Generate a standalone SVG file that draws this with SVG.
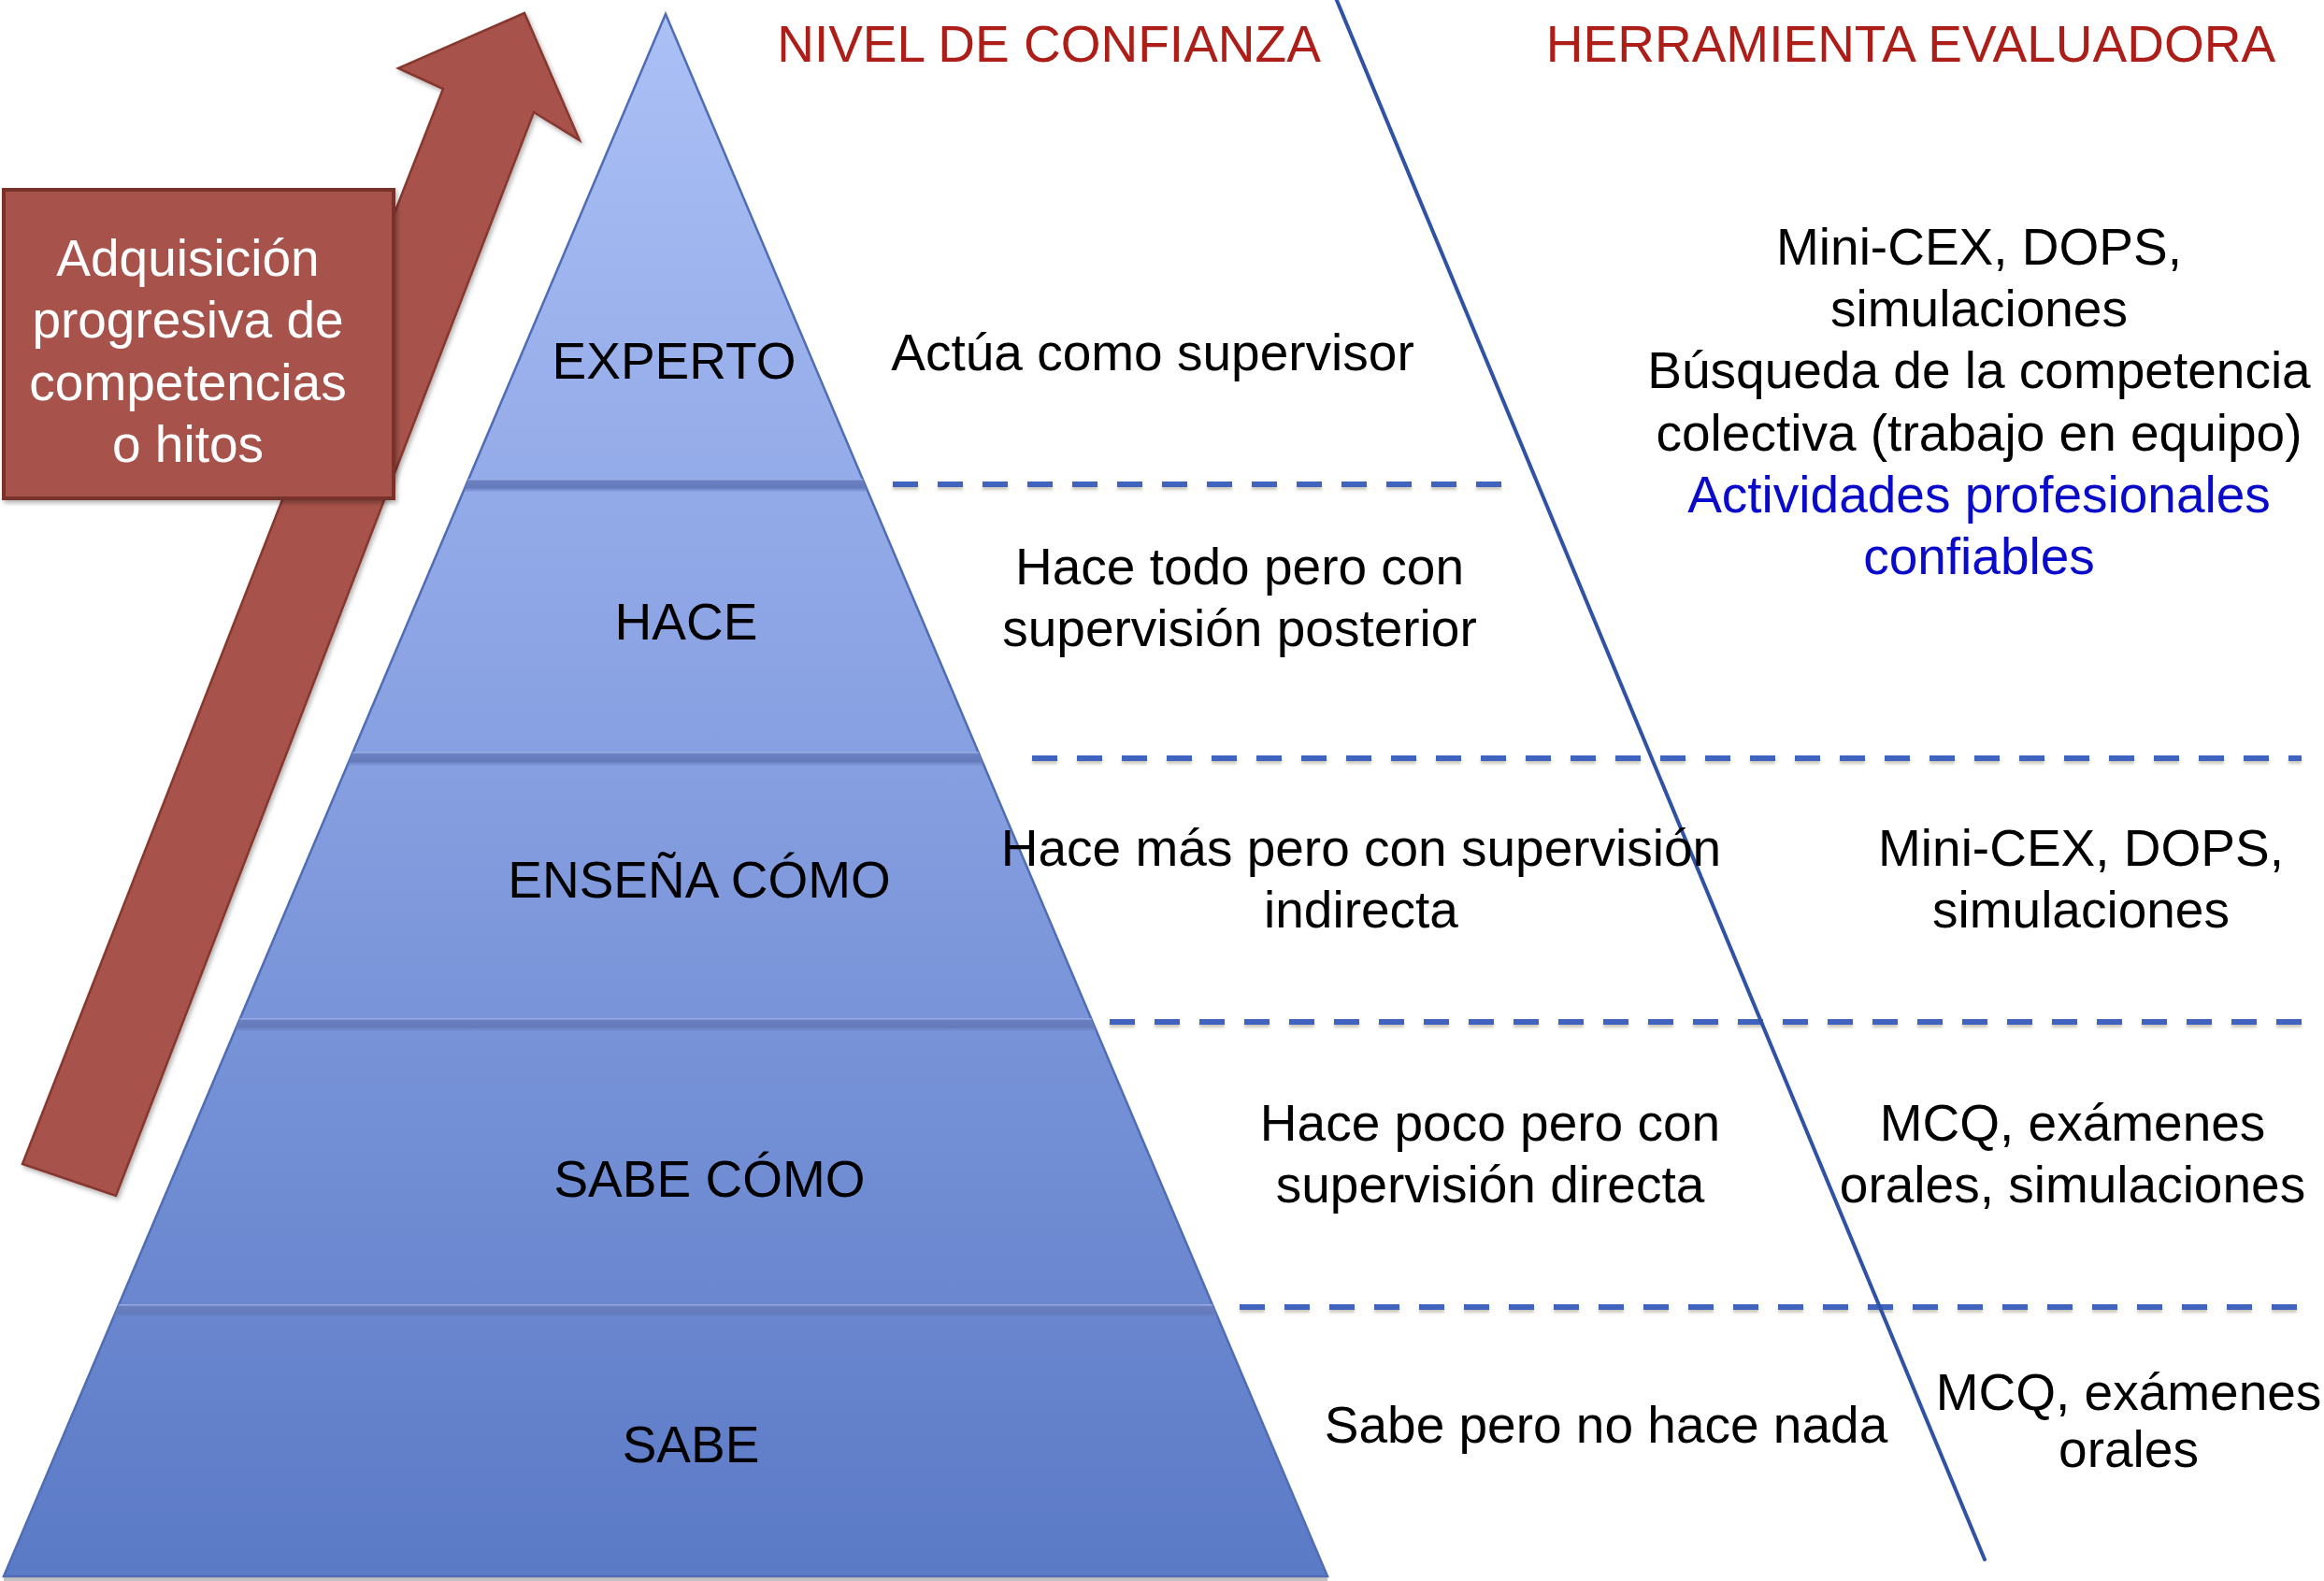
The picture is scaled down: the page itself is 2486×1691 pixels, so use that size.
<svg xmlns="http://www.w3.org/2000/svg" width="2486" height="1691" viewBox="0 0 2486 1691">
  <defs>
    <style>
      text { font-family: "Liberation Sans", Arial, Helvetica, sans-serif; font-size: 55px; text-anchor: middle; }
      .blk { fill: #000000; }
      .wht { fill: #ffffff; }
      .hdr { fill: #AE1E18; }
      .blu { fill: #0A0ACB; }
      .dash { stroke: #3f63c0; stroke-width: 6; stroke-dasharray: 27 21; fill: none; }
      .stripe { fill: url(#stripeGrad); }
    </style>
    <linearGradient id="pyrGrad" gradientUnits="userSpaceOnUse" x1="0" y1="16" x2="0" y2="1686">
      <stop offset="0" stop-color="#abc0f5"/>
      <stop offset="0.3" stop-color="#94abe9"/>
      <stop offset="0.47" stop-color="#87a0e1"/>
      <stop offset="1" stop-color="#5b7ac6"/>
    </linearGradient>
    <linearGradient id="stripeGrad" x1="0" y1="0" x2="0" y2="1">
      <stop offset="0" stop-color="#a6b9ee" stop-opacity="0.9"/>
      <stop offset="0.18" stop-color="#6a7fc0"/>
      <stop offset="0.7" stop-color="#657abb"/>
      <stop offset="1" stop-color="#6d85c8" stop-opacity="0.2"/>
    </linearGradient>
    <clipPath id="pyrClip">
      <polygon points="712,15 1420,1686 4,1686"/>
    </clipPath>
    <filter id="dsh" filterUnits="userSpaceOnUse" x="0" y="0" width="2486" height="1691">
      <feDropShadow dx="0" dy="3" stdDeviation="1.5" flood-color="#8f8668" flood-opacity="0.45"/>
    </filter>
    <filter id="boxsh" x="-10%" y="-10%" width="120%" height="120%">
      <feDropShadow dx="2" dy="3" stdDeviation="2.5" flood-color="#000000" flood-opacity="0.3"/>
    </filter>
  </defs>

  <rect width="2486" height="1691" fill="#ffffff"/>

  <!-- Progress arrow -->
  <g id="arrow">
    <path d="M 24 1245 L 474 95 L 426 73 L 561 14 L 620 150 L 571 120 L 124 1279 Z" fill="#a7524b" stroke="#86382f" stroke-width="2.5" stroke-linejoin="miter" filter="url(#boxsh)"/>
  </g>

  <!-- Label box -->
  <g id="box-adquisicion">
    <rect x="4" y="203" width="417" height="330" fill="#a7524b" stroke="#77302a" stroke-width="4" filter="url(#boxsh)"/>
    <text class="wht" x="201" y="295">Adquisición</text>
    <text class="wht" x="201" y="361">progresiva de</text>
    <text class="wht" x="201" y="428">competencias</text>
    <text class="wht" x="201" y="494">o hitos</text>
  </g>

  <!-- Pyramid -->
  <g id="pyramid">
    <rect x="4" y="1686" width="1416" height="5" fill="#9a9a9a" opacity="0.6"/>
    <polygon points="712,15 1420,1686 4,1686" fill="url(#pyrGrad)" stroke="#4f6cb4" stroke-width="2.5"/>
    <g clip-path="url(#pyrClip)">
      <rect class="stripe" x="0" y="512" width="1500" height="14"/>
      <rect class="stripe" x="0" y="804" width="1500" height="15"/>
      <rect class="stripe" x="0" y="1089" width="1500" height="14"/>
      <rect class="stripe" x="0" y="1395" width="1500" height="14"/>
    </g>
  </g>
  <g id="level-experto"><text class="blk" x="721" y="405">EXPERTO</text></g>
  <g id="level-hace"><text class="blk" x="734" y="684">HACE</text></g>
  <g id="level-ensena"><text class="blk" x="748" y="960">ENSEÑA CÓMO</text></g>
  <g id="level-sabecomo"><text class="blk" x="759" y="1280">SABE CÓMO</text></g>
  <g id="level-sabe"><text class="blk" x="739" y="1564">SABE</text></g>

  <!-- Headers -->
  <g id="header-nivel"><text class="hdr" x="1122" y="66">NIVEL DE CONFIANZA</text></g>
  <g id="header-herramienta"><text class="hdr" x="2044" y="66">HERRAMIENTA EVALUADORA</text></g>

  <!-- Separators -->
  <g id="connectors">
    <g filter="url(#dsh)">
      <line class="dash" x1="955" y1="518" x2="1612" y2="518"/>
      <line class="dash" x1="1104" y1="811" x2="2462" y2="811"/>
      <line class="dash" x1="1187" y1="1093" x2="2464" y2="1093"/>
      <line class="dash" x1="1326" y1="1398" x2="2464" y2="1398"/>
    </g>
    <line x1="1429" y1="-2" x2="2123" y2="1668" stroke="#2f52a4" stroke-width="4" stroke-linecap="round"/>
  </g>

  <!-- Confidence level column -->
  <g id="nivel-experto"><text class="blk" x="1233" y="396">Actúa como supervisor</text></g>
  <g id="nivel-hace">
    <text class="blk" x="1326" y="625">Hace todo pero con</text>
    <text class="blk" x="1326" y="691">supervisión posterior</text>
  </g>
  <g id="nivel-ensena">
    <text class="blk" x="1456" y="926">Hace más pero con supervisión</text>
    <text class="blk" x="1456" y="992">indirecta</text>
  </g>
  <g id="nivel-sabecomo">
    <text class="blk" x="1594" y="1220">Hace poco pero con</text>
    <text class="blk" x="1594" y="1286">supervisión directa</text>
  </g>
  <g id="nivel-sabe"><text class="blk" x="1718" y="1543">Sabe pero no hace nada</text></g>

  <!-- Assessment tool column -->
  <g id="herr-experto">
    <text class="blk" x="2117" y="283">Mini-CEX, DOPS,</text>
    <text class="blk" x="2117" y="349">simulaciones</text>
    <text class="blk" x="2117" y="415">Búsqueda de la competencia</text>
    <text class="blk" x="2117" y="482">colectiva (trabajo en equipo)</text>
    <text class="blu" x="2117" y="548">Actividades profesionales</text>
    <text class="blu" x="2117" y="614">confiables</text>
  </g>
  <g id="herr-ensena">
    <text class="blk" x="2226" y="926">Mini-CEX, DOPS,</text>
    <text class="blk" x="2226" y="992">simulaciones</text>
  </g>
  <g id="herr-sabecomo">
    <text class="blk" x="2217" y="1220">MCQ, exámenes</text>
    <text class="blk" x="2217" y="1286">orales, simulaciones</text>
  </g>
  <g id="herr-sabe">
    <text class="blk" x="2277" y="1508">MCQ, exámenes</text>
    <text class="blk" x="2277" y="1569">orales</text>
  </g>
</svg>
